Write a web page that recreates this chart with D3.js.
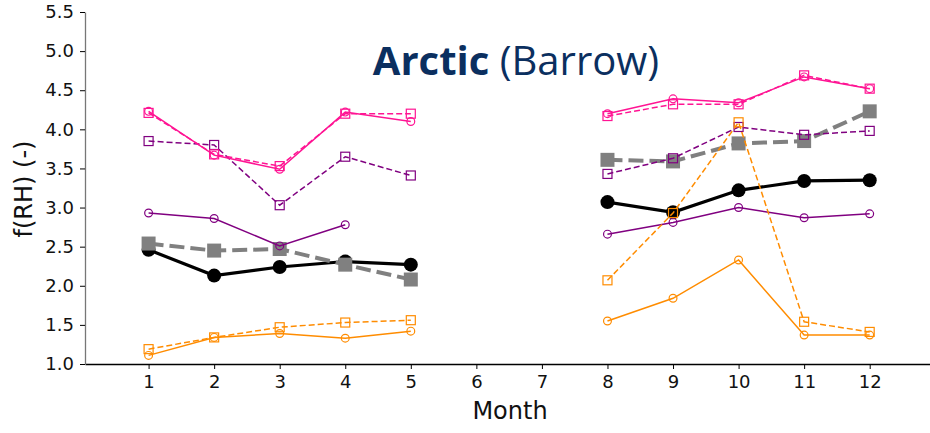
<!DOCTYPE html>
<html>
<head>
<meta charset="utf-8">
<script src="https://cdn.jsdelivr.net/npm/d3@7"></script>
<style>
  body { margin: 0; background: white; }
</style>
</head>
<body>
<div id="container"></div>
<script>
let w = 930;
let h = 433;

// DATA (null = no measurement)
let months = [1, 2, 3, 4, 5, 6, 7, 8, 9, 10, 11, 12];
let yTicks = [1.0, 1.5, 2.0, 2.5, 3.0, 3.5, 4.0, 4.5, 5.0, 5.5];

let blackSolid   = [2.46, 2.13, 2.24, 2.31, 2.27, null, null, 3.07, 2.94, 3.22, 3.34, 3.35];
let grayDashed   = [2.54, 2.45, 2.47, 2.27, 2.08, null, null, 3.61, 3.59, 3.82, 3.85, 4.23];
let purpleSolid  = [2.93, 2.86, 2.51, 2.78, null, null, null, 2.66, 2.81, 3.00, 2.87, 2.92];
let purpleDashed = [3.85, 3.80, 3.03, 3.65, 3.41, null, null, 3.43, 3.63, 4.03, 3.93, 3.98];
let pinkSolid    = [4.23, 3.67, 3.49, 4.22, 4.10, null, null, 4.20, 4.39, 4.34, 4.67, 4.52];
let pinkDashed   = [4.21, 3.68, 3.53, 4.20, 4.20, null, null, 4.17, 4.32, 4.32, 4.69, 4.52];
let orangeSolid  = [1.11, 1.34, 1.39, 1.33, 1.42, null, null, 1.55, 1.84, 2.33, 1.37, 1.37];
let orangeDashed = [1.19, 1.34, 1.47, 1.53, 1.56, null, null, 2.07, 2.93, 4.09, 1.54, 1.41];

let font = "DejaVu Sans, sans-serif";

let svg = d3.select("#container").append("svg")
    .attr("width", w)
    .attr("height", h)
    .style("font-family", font);

// SCALES
let xScale = d3.scaleLinear().domain([0.03, 12.92]).range([85, 930]);
let yScale = d3.scaleLinear().domain([1.0, 5.5]).range([364, 12]);

// AXES
let xAxis = d3.axisBottom(xScale).tickValues(months).tickSize(5).tickPadding(6).tickSizeOuter(0);
let xG = svg.append("g").attr("transform", "translate(0,364)").call(xAxis)
    .attr("font-family", font);
xG.selectAll("text").style("font-size", "18px").attr("fill", "#111");
xG.select(".domain").attr("stroke", "black").attr("stroke-width", 1.3);

let yAxis = d3.axisLeft(yScale).tickValues(yTicks).tickFormat(d3.format(".1f")).tickSize(5).tickPadding(6).tickSizeOuter(0);
let yG = svg.append("g").attr("transform", "translate(85,0)").call(yAxis)
    .attr("font-family", font);
yG.selectAll("text").style("font-size", "18px").attr("fill", "#111");
yG.select(".domain").attr("stroke", "#777").attr("stroke-width", 1.3);

svg.append("text")
    .attr("transform", "translate(32,189) rotate(-90)")
    .attr("text-anchor", "middle")
    .style("font-size", "24px")
    .attr("fill", "#111")
    .text("f(RH) (-)");

svg.append("text")
    .attr("x", 510)
    .attr("y", 419)
    .attr("text-anchor", "middle")
    .style("font-size", "24px")
    .attr("fill", "#111")
    .text("Month");

// TITLE
let title = svg.append("text")
    .attr("x", 516)
    .attr("y", 75)
    .attr("text-anchor", "middle")
    .style("font-family", "Open Sans, sans-serif")
    .style("font-size", "40px")
    .attr("fill", "#0b2f5f");
title.append("tspan").style("font-weight", "bold").text("Arctic");
title.append("tspan").text(" (Barrow)");

// SERIES
let series = [
  { values: blackSolid,   color: "black",      width: 3.2, dash: null,    marker: "circle", size: 14, filled: true },
  { values: grayDashed,   color: "gray",       width: 4,   dash: "15,6",  marker: "square", size: 14, filled: true },
  { values: purpleSolid,  color: "purple",     width: 1.5, dash: null,    marker: "circle", size: 9,  filled: false },
  { values: purpleDashed, color: "purple",     width: 1.5, dash: "6,3",   marker: "square", size: 9,  filled: false },
  { values: pinkSolid,    color: "deeppink",   width: 1.5, dash: null,    marker: "circle", size: 9,  filled: false },
  { values: pinkDashed,   color: "deeppink",   width: 1.5, dash: "6,3",   marker: "square", size: 9,  filled: false },
  { values: orangeSolid,  color: "darkorange", width: 1.5, dash: null,    marker: "circle", size: 9,  filled: false },
  { values: orangeDashed, color: "darkorange", width: 1.5, dash: "6,3",   marker: "square", size: 9,  filled: false }
];

let lineMaker = d3.line()
    .defined(function(d){ return d.v != null; })
    .x(function(d){ return xScale(d.m); })
    .y(function(d){ return yScale(d.v); });

series.forEach(function(s){
  let pts = months.map(function(m, i){ return { m: m, v: s.values[i] }; });
  svg.append("path")
      .datum(pts)
      .attr("d", lineMaker)
      .attr("fill", "none")
      .attr("stroke", s.color)
      .attr("stroke-width", s.width)
      .attr("stroke-dasharray", s.dash);

  let valid = pts.filter(function(d){ return d.v != null; });
  if (s.marker == "circle") {
    svg.selectAll(null).data(valid).enter()
      .append("circle")
        .attr("cx", function(d){ return xScale(d.m); })
        .attr("cy", function(d){ return yScale(d.v); })
        .attr("r", s.filled ? s.size / 2 : s.size / 2 - 0.6)
        .attr("fill", s.filled ? s.color : "none")
        .attr("stroke", s.color)
        .attr("stroke-width", s.filled ? 0 : 1.2);
  } else {
    svg.selectAll(null).data(valid).enter()
      .append("rect")
        .attr("x", function(d){ return xScale(d.m) - s.size / 2; })
        .attr("y", function(d){ return yScale(d.v) - s.size / 2; })
        .attr("width", s.size)
        .attr("height", s.size)
        .attr("fill", s.filled ? s.color : "none")
        .attr("stroke", s.color)
        .attr("stroke-width", s.filled ? 0 : 1.2);
  }
});
</script>
</body>
</html>
